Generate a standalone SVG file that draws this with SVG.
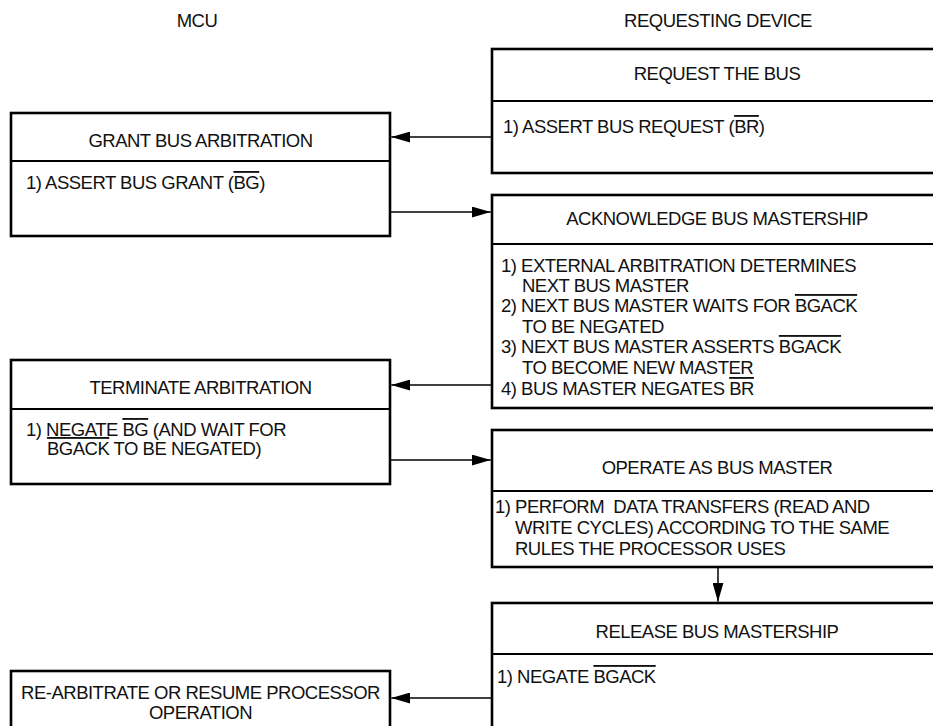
<svg xmlns="http://www.w3.org/2000/svg" width="933" height="726" viewBox="0 0 933 726">
<style>
.box{fill:#fff;stroke:#000;stroke-width:2.6}
.dv{stroke:#000;stroke-width:2.2}
.t{font-family:"Liberation Sans",Arial,Helvetica,sans-serif;font-size:18.5px;letter-spacing:-0.5px;fill:#111}
.c{text-anchor:middle}
.ol{text-decoration:overline}
.cn{stroke:#000;stroke-width:1.5;fill:none;marker-end:url(#ah)}
</style>
<defs>
<marker id="ah" markerUnits="userSpaceOnUse" markerWidth="19" markerHeight="11" refX="19" refY="5.5" orient="auto">
<path d="M0,0 L19,5.5 L0,11 Z" fill="#000"/>
</marker>
</defs>
<rect width="933" height="726" fill="#fff"/>
<g id="labels">
<text class="t c" x="197" y="27">MCU</text>
<text class="t c" x="718" y="27">REQUESTING DEVICE</text>
</g>
<g id="request">
<rect class="box" x="492" y="49" width="450" height="124"/>
<line class="dv" x1="492" y1="101" x2="942" y2="101"/>
<text class="t c" x="717" y="80">REQUEST THE BUS</text>
<text class="t" x="503" y="133">1) ASSERT BUS REQUEST (<tspan class="ol">BR</tspan>)</text>
</g>
<g id="grant">
<rect class="box" x="11" y="113" width="379" height="123"/>
<line class="dv" x1="11" y1="161" x2="390" y2="161"/>
<text class="t c" x="200.5" y="147">GRANT BUS ARBITRATION</text>
<text class="t" x="26" y="189">1) ASSERT BUS GRANT (<tspan class="ol">BG</tspan>)</text>
</g>
<g id="acknowledge">
<rect class="box" x="492" y="195" width="450" height="213"/>
<line class="dv" x1="492" y1="244" x2="942" y2="244"/>
<text class="t c" x="717" y="225">ACKNOWLEDGE BUS MASTERSHIP</text>
<text class="t" x="501" y="272">1) EXTERNAL ARBITRATION DETERMINES</text>
<text class="t" x="522" y="292">NEXT BUS MASTER</text>
<text class="t" x="501" y="312">2) NEXT BUS MASTER WAITS FOR <tspan class="ol">BGACK</tspan></text>
<text class="t" x="522" y="333">TO BE NEGATED</text>
<text class="t" x="501" y="353">3) NEXT BUS MASTER ASSERTS <tspan class="ol">BGACK</tspan></text>
<text class="t" x="522" y="374">TO BECOME NEW MASTER</text>
<text class="t" x="501" y="395">4) BUS MASTER NEGATES <tspan class="ol">BR</tspan></text>
</g>
<g id="terminate">
<rect class="box" x="11" y="360" width="379" height="124"/>
<line class="dv" x1="11" y1="409" x2="390" y2="409"/>
<text class="t c" x="200.5" y="394">TERMINATE ARBITRATION</text>
<text class="t" x="26" y="436">1) NEGATE <tspan class="ol">BG</tspan> (AND WAIT FOR</text>
<text class="t" x="47" y="455"><tspan class="ol">BGACK</tspan> TO BE NEGATED)</text>
</g>
<g id="operate">
<rect class="box" x="492" y="430" width="450" height="137"/>
<line class="dv" x1="492" y1="491" x2="942" y2="491"/>
<text class="t c" x="717" y="474">OPERATE AS BUS MASTER</text>
<text class="t" x="495" y="513" xml:space="preserve">1) PERFORM  DATA TRANSFERS (READ AND</text>
<text class="t" x="515" y="534">WRITE CYCLES) ACCORDING TO THE SAME</text>
<text class="t" x="515" y="555">RULES THE PROCESSOR USES</text>
</g>
<g id="release">
<rect class="box" x="492" y="603" width="450" height="130"/>
<line class="dv" x1="492" y1="654" x2="942" y2="654"/>
<text class="t c" x="717" y="638">RELEASE BUS MASTERSHIP</text>
<text class="t" x="497" y="683">1) NEGATE <tspan class="ol">BGACK</tspan></text>
</g>
<g id="rearbitrate">
<rect class="box" x="11" y="671" width="379" height="70"/>
<text class="t c" x="200.5" y="699">RE-ARBITRATE OR RESUME PROCESSOR</text>
<text class="t c" x="200.5" y="719">OPERATION</text>
</g>
<g id="connectors">
<line class="cn" x1="491" y1="137" x2="391.3" y2="137"/>
<line class="cn" x1="390" y1="212" x2="490.7" y2="212"/>
<line class="cn" x1="491" y1="385" x2="391.3" y2="385"/>
<line class="cn" x1="390" y1="460" x2="490.7" y2="460"/>
<line class="cn" x1="718" y1="567" x2="718" y2="601.7"/>
<line class="cn" x1="491" y1="698" x2="391.3" y2="698"/>
</g>
</svg>
